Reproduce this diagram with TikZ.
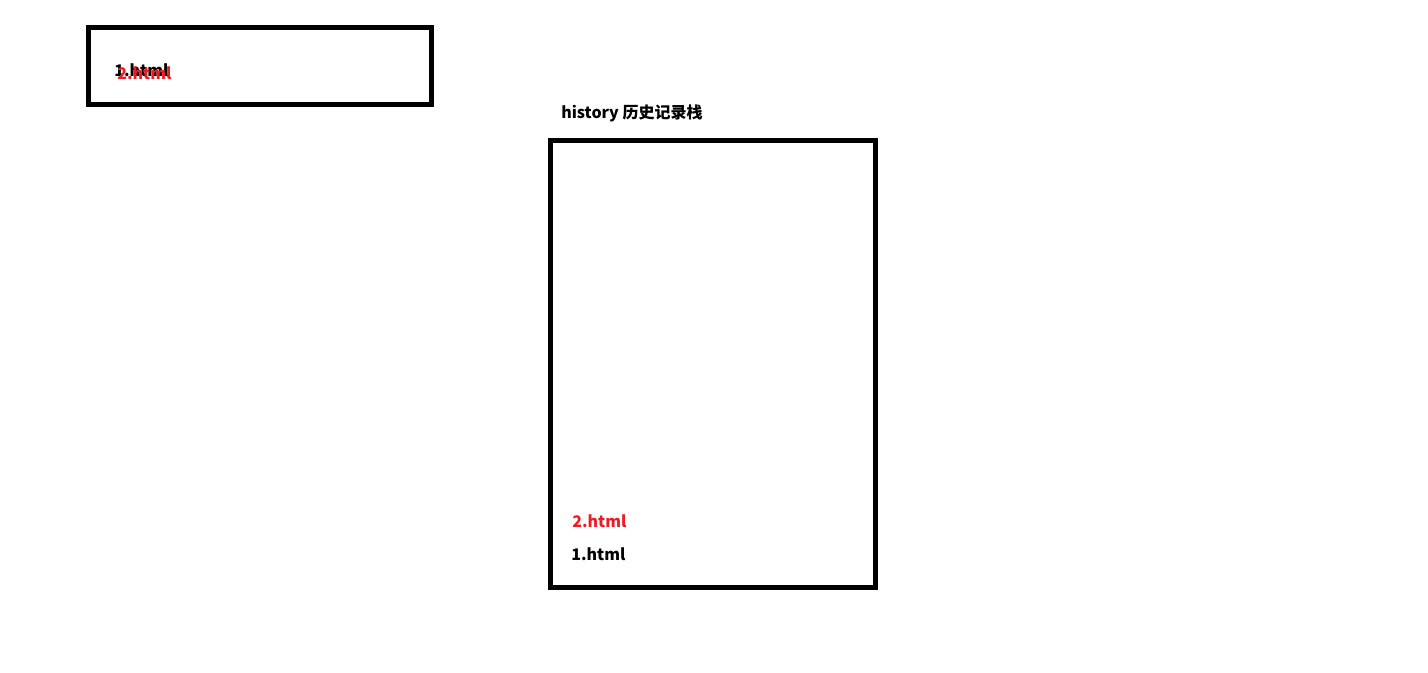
\documentclass[tikz,border=0pt]{standalone}
\usepackage{fontspec}
\setmainfont{Noto Sans CJK SC}
\definecolor{paintred}{HTML}{ED1C24}
\begin{document}
\begin{tikzpicture}[x=0.75pt, y=-0.75pt,
	frame/.style={draw, line width=3.75pt},
	page/.style={anchor=west, inner sep=0pt, font=\bfseries\fontsize{12}{14}\selectfont}]
	\useasboundingbox (0, 0) rectangle (1428, 673);
	
	\draw[frame] (88.5, 28) rectangle (431, 105);
	\draw[frame] (550.5, 140.5) rectangle (875, 587);
	
	\node[page] (one) at (114, 70) {1.html};
	\node[page, text=paintred] (two) at (117, 73) {2.html};
	
	\node[page] (title) at (561, 113) {history 历史记录栈};
	\node[page, text=paintred] (two2) at (572, 521) {2.html};
	\node[page] (one2) at (571, 554) {1.html};
\end{tikzpicture}
\end{document}
